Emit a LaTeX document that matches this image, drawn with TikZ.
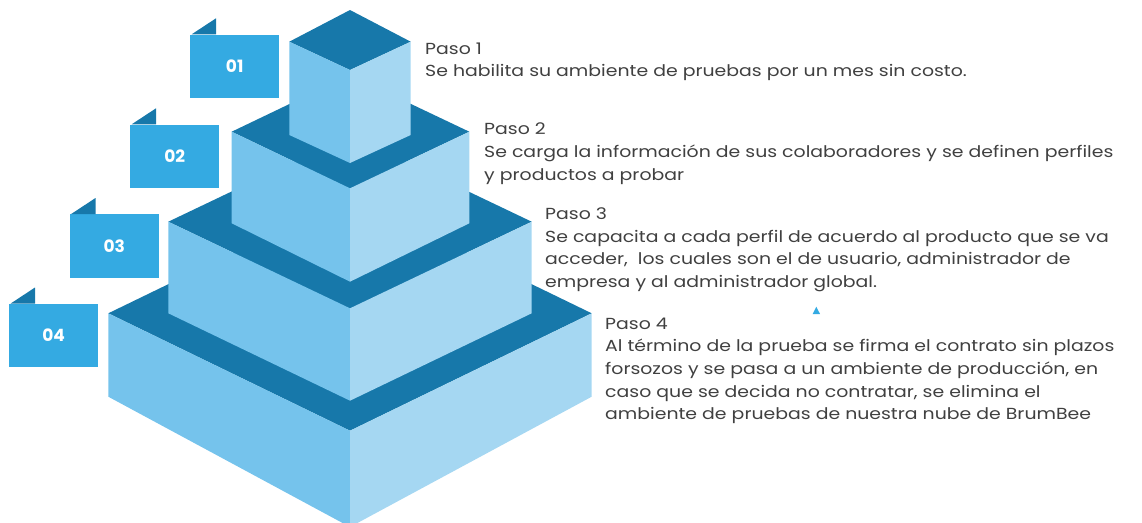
\documentclass[tikz,border=0pt]{standalone}
\usepackage{fontspec}
\setmainfont{Poppins}
\newfontfamily\stepfont[FakeStretch=1.18]{Poppins}
\usetikzlibrary{calc}
\definecolor{dk}{HTML}{1778AA}
\definecolor{lf}{HTML}{75C3EC}
\definecolor{rf}{HTML}{A5D7F2}
\definecolor{tabc}{HTML}{34AAE2}
\definecolor{txt}{HTML}{404040}
\tikzset{
  topface/.style={fill=dk},
  leftface/.style={fill=lf},
  rightface/.style={fill=rf},
  tabbox/.style={fill=tabc, minimum width=89pt, minimum height=63.5pt, inner sep=0pt, anchor=north west, text=white, font=\fontsize{17}{19}\selectfont\bfseries},
  flap/.style={fill=dk},
  steptext/.style={anchor=north west, inner sep=0pt, align=left, text=txt, font=\stepfont\fontsize{16}{22.7}\selectfont},
  marker/.style={fill=tabc},
}
\begin{document}
\begin{tikzpicture}[x=1pt,y=-1pt]
\useasboundingbox (0,0) rectangle (1142,522);
\clip (0,0) rectangle (1142,522);
% level 4
\fill[topface] (108.3,313.3) -- (350,196) -- (591.7,313.3) -- (350,430.7) -- cycle;
\fill[leftface] (108.3,313.3) -- (350,430.7) -- (350,527) -- (108.3,396.7) -- cycle;
\fill[rightface] (591.7,313.3) -- (350,430.7) -- (350,527) -- (591.7,396.7) -- cycle;
% level 3
\fill[topface] (168.3,221.7) -- (350,135) -- (531.7,221.7) -- (350,308.3) -- cycle;
\fill[leftface] (168.3,221.7) -- (350,308.3) -- (350,400.7) -- (168.3,313.3) -- cycle;
\fill[rightface] (531.7,221.7) -- (350,308.3) -- (350,400.7) -- (531.7,313.3) -- cycle;
% level 2
\fill[topface] (231.7,131.7) -- (350,75) -- (469.3,131.7) -- (350,188.3) -- cycle;
\fill[leftface] (231.7,131.7) -- (350,188.3) -- (350,281.7) -- (231.7,223.3) -- cycle;
\fill[rightface] (469.3,131.7) -- (350,188.3) -- (350,281.7) -- (469.3,223.3) -- cycle;
% level 1
\fill[topface] (289.3,41.7) -- (350,10) -- (410.7,41.7) -- (350,70) -- cycle;
\fill[leftface] (289.3,41.7) -- (350,70) -- (350,163) -- (289.3,135) -- cycle;
\fill[rightface] (410.7,41.7) -- (350,70) -- (350,163) -- (410.7,135) -- cycle;
% tabs
\node[tabbox] (t1) at (190,34.3) {01};
\node[tabbox] (t2) at (130,124.3) {02};
\node[tabbox] (t3) at (69.5,214) {03};
\node[tabbox] (t4) at (9,303.5) {04};
\foreach \t in {t1,t2,t3,t4}{
  \fill[flap] ($(\t.north west)+(1.7,0)$) -- ($(\t.north west)+(26,-16)$) -- ($(\t.north west)+(26,0)$) -- cycle;
}
% texts
\node[steptext] (s1) at (425,42.5) {Paso 1\\Se habilita su ambiente de pruebas por un mes sin costo.};
\node[steptext] (s2) at (484,123) {Paso 2\\Se carga la información de sus colaboradores y se definen perfiles\\y productos a probar};
\node[steptext] (s3) at (545,207.5) {Paso 3\\Se capacita a cada perfil de acuerdo al producto que se va\\acceder, \ los cuales son el de usuario, administrador de\\empresa y al administrador global.};
\node[steptext] (s4) at (605,317.5) {Paso 4\\Al término de la prueba se firma el contrato sin plazos\\forsozos y se pasa a un ambiente de producción, en\\caso que se decida no contratar, se elimina el\\ambiente de pruebas de nuestra nube de BrumBee};
% small marker
\fill[marker] (816.3,306.7) -- (820,314) -- (812.7,314) -- cycle;
\end{tikzpicture}
\end{document}
